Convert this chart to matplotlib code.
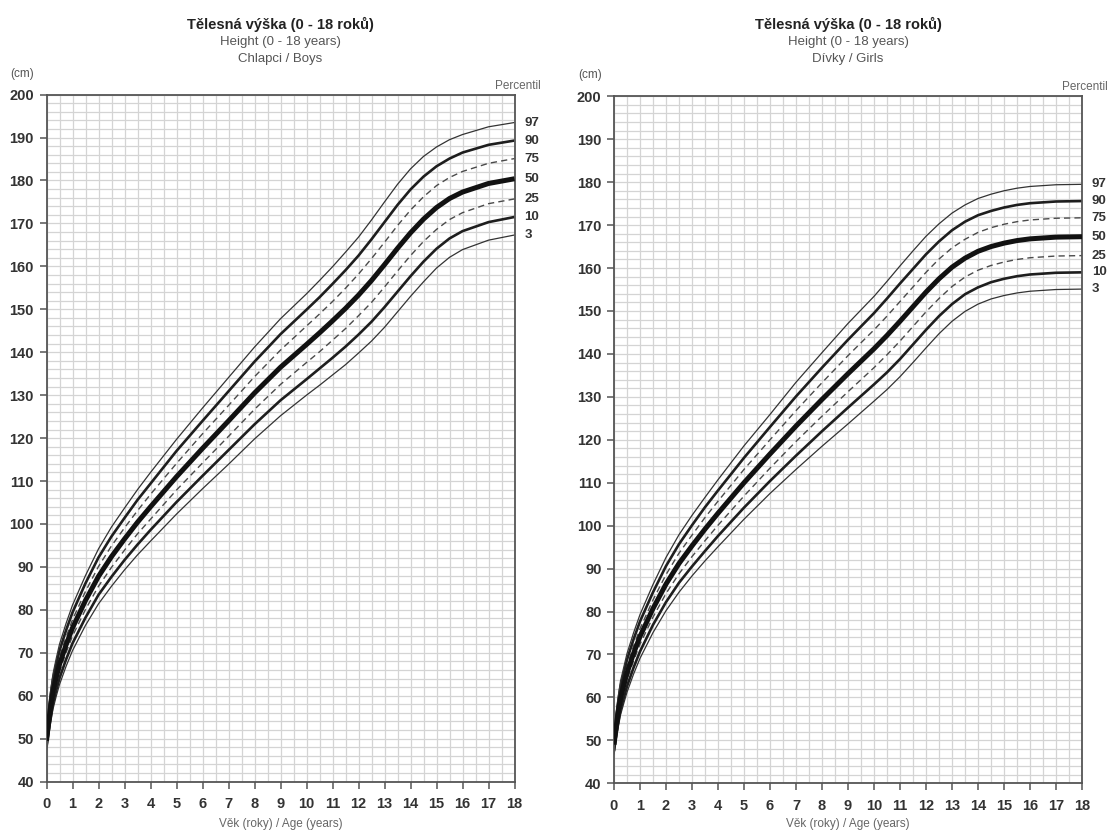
import matplotlib
matplotlib.use("Agg")
import matplotlib.pyplot as plt
from matplotlib.ticker import MultipleLocator

plt.rcParams['font.family'] = ['Liberation Sans', 'DejaVu Sans']

ages = [0, 0.083, 0.167, 0.25, 0.375, 0.5, 0.75, 1, 1.5, 2, 2.5, 3, 3.5, 4, 5, 6, 7,
        8, 9, 10, 10.5, 11, 11.5, 12, 12.5, 13, 13.5, 14, 14.5, 15, 15.5, 16, 17, 18]

percentiles = ["3", "10", "25", "50", "75", "90", "97"]

boys_p3 = [47.2, 50.8, 54.0, 56.9, 59.9, 62.6, 66.8, 70.5, 76.4, 81.4, 85.5, 89.3, 92.8, 96.0, 102.3, 108.2, 113.9, 119.8, 125.2,
           130.0, 132.3, 134.7, 137.1, 139.8, 142.6, 145.8, 149.4, 153.0, 156.4, 159.6, 162.1, 163.9, 166.1, 167.3]
boys_p10 = [48.0, 51.8, 55.2, 58.2, 61.3, 64.1, 68.4, 72.2, 78.2, 83.5, 87.7, 91.6, 95.2, 98.6, 105.1, 111.2, 117.2, 123.2, 128.8,
            133.7, 136.2, 138.7, 141.3, 144.1, 147.1, 150.5, 154.1, 157.7, 161.1, 164.1, 166.5, 168.2, 170.3, 171.5]
boys_p25 = [48.7, 52.9, 56.4, 59.5, 62.7, 65.6, 70.0, 73.9, 80.1, 85.5, 89.9, 93.9, 97.7, 101.1, 107.9, 114.2, 120.4, 126.7, 132.5,
            137.6, 140.1, 142.8, 145.5, 148.5, 151.6, 155.2, 158.9, 162.5, 165.8, 168.6, 170.9, 172.5, 174.6, 175.7]
boys_p50 = [49.5, 54.0, 57.8, 61.0, 64.3, 67.3, 71.8, 75.8, 82.2, 87.8, 92.4, 96.5, 100.4, 104.0, 111.0, 117.6, 124.0, 130.5, 136.5,
            141.8, 144.5, 147.3, 150.2, 153.3, 156.7, 160.4, 164.2, 167.8, 171.0, 173.7, 175.8, 177.3, 179.3, 180.4]
boys_p75 = [50.3, 55.2, 59.2, 62.5, 65.9, 69.0, 73.6, 77.7, 84.3, 90.1, 94.9, 99.1, 103.1, 106.9, 114.1, 121.0, 127.6, 134.3, 140.5,
            146.1, 148.9, 151.8, 154.9, 158.2, 161.8, 165.6, 169.5, 173.1, 176.2, 178.8, 180.7, 182.1, 184.0, 185.1]
boys_p90 = [51.0, 56.2, 60.4, 63.8, 67.3, 70.5, 75.2, 79.4, 86.2, 92.2, 97.1, 101.4, 105.6, 109.4, 117.0, 124.0, 130.9, 137.8, 144.2,
            149.9, 152.8, 155.9, 159.1, 162.5, 166.3, 170.3, 174.3, 177.9, 180.9, 183.3, 185.1, 186.5, 188.3, 189.3]
boys_p97 = [51.8, 57.2, 61.6, 65.1, 68.7, 72.0, 76.8, 81.1, 88.0, 94.2, 99.3, 103.7, 108.0, 112.0, 119.7, 127.0, 134.1, 141.2, 147.8,
            153.6, 156.7, 159.9, 163.3, 166.8, 170.8, 175.0, 179.1, 182.7, 185.6, 187.8, 189.5, 190.7, 192.5, 193.5]

girls_p3 = [46.7, 50.2, 53.2, 55.9, 58.6, 61.2, 65.4, 69.1, 75.1, 80.2, 84.5, 88.3, 91.8, 95.1, 101.5, 107.5, 113.1, 118.5, 123.7, 129.0, 131.7, 134.7, 138.0, 141.4, 144.7, 147.6, 149.9, 151.6, 152.8, 153.6, 154.2, 154.6, 155.0, 155.1]
girls_p10 = [47.5, 51.2, 54.4, 57.1, 59.9, 62.6, 66.9, 70.7, 76.9, 82.2, 86.7, 90.5, 94.1, 97.6, 104.2, 110.4, 116.3, 122.0, 127.5, 132.9, 135.7, 138.8, 142.2, 145.6, 148.8, 151.6, 153.9, 155.5, 156.7, 157.5, 158.1, 158.5, 158.9, 159.0]
girls_p25 = [48.2, 52.1, 55.5, 58.4, 61.3, 64.1, 68.5, 72.4, 78.7, 84.2, 88.8, 92.8, 96.5, 100.1, 106.9, 113.4, 119.6, 125.5, 131.2, 136.8, 139.8, 143.0, 146.4, 149.8, 152.9, 155.7, 157.9, 159.5, 160.6, 161.4, 162.0, 162.4, 162.8, 162.9]
girls_p50 = [49.0, 53.2, 56.8, 59.8, 62.8, 65.7, 70.2, 74.2, 80.7, 86.4, 91.2, 95.3, 99.2, 102.9, 110.0, 116.7, 123.2, 129.4, 135.4, 141.2, 144.3, 147.6, 151.0, 154.4, 157.5, 160.2, 162.3, 163.9, 165.0, 165.8, 166.4, 166.8, 167.2, 167.3]
girls_p75 = [49.8, 54.3, 58.1, 61.2, 64.3, 67.3, 71.9, 76.0, 82.7, 88.6, 93.6, 97.8, 101.9, 105.7, 113.1, 120.0, 126.8, 133.3, 139.6, 145.6, 148.8, 152.2, 155.6, 159.0, 162.1, 164.7, 166.7, 168.3, 169.4, 170.2, 170.8, 171.2, 171.6, 171.7]
girls_p90 = [50.5, 55.3, 59.2, 62.5, 65.7, 68.8, 73.5, 77.7, 84.5, 90.6, 95.7, 100.1, 104.3, 108.2, 115.8, 123.0, 130.1, 136.8, 143.3, 149.5, 152.9, 156.4, 159.8, 163.2, 166.2, 168.8, 170.8, 172.3, 173.3, 174.1, 174.7, 175.1, 175.5, 175.6]
girls_p97 = [51.3, 56.2, 60.4, 63.8, 67.0, 70.2, 75.0, 79.3, 86.3, 92.6, 97.9, 102.4, 106.6, 110.7, 118.6, 125.9, 133.4, 140.3, 147.1, 153.4, 156.9, 160.5, 164.0, 167.4, 170.3, 172.8, 174.7, 176.2, 177.2, 178.0, 178.6, 179.0, 179.4, 179.5]

boys = [boys_p3, boys_p10, boys_p25, boys_p50, boys_p75, boys_p90, boys_p97]
girls = [girls_p3, girls_p10, girls_p25, girls_p50, girls_p75, girls_p90, girls_p97]

x_ticks = list(range(0, 19))
y_ticks = list(range(40, 201, 10))

title_cz = "Tělesná výška (0 - 18 roků)"
title_en = "Height (0 - 18 years)"
sub_boys = "Chlapci / Boys"
sub_girls = "Dívky / Girls"
xlabel = "Věk (roky) / Age (years)"

# style per percentile: (linewidth, linestyle, color)
styles = {
    "3": (0.9, '-', '#333333'),
    "10": (1.9, '-', '#1e1e1e'),
    "25": (1.0, (0, (4.5, 3)), '#4a4a4a'),
    "50": (3.6, '-', '#111111'),
    "75": (1.0, (0, (4.5, 3)), '#4a4a4a'),
    "90": (1.9, '-', '#1e1e1e'),
    "97": (0.9, '-', '#333333'),
}

W, H = 1110, 832
fig = plt.figure(figsize=(W / 100, H / 100), dpi=100)


def make_panel(left_px, top_px, bottom_px, right_px, series, sub):
    ax = fig.add_axes([left_px / W, 1 - bottom_px / H,
                       (right_px - left_px) / W, (bottom_px - top_px) / H])
    ax.set_xlim(0, 18)
    ax.set_ylim(40, 200)
    ax.xaxis.set_minor_locator(MultipleLocator(0.5))
    ax.yaxis.set_minor_locator(MultipleLocator(2))
    ax.set_xticks(x_ticks)
    ax.set_yticks(y_ticks)
    ax.grid(which='both', color='#d4d4d4', linewidth=0.9)
    ax.set_axisbelow(True)
    for s in ax.spines.values():
        s.set_color('#555555')
        s.set_linewidth(1.3)
    ax.tick_params(axis='both', which='minor', length=0)
    ax.tick_params(axis='both', which='major', length=5, width=1.1, color='#555555',
                   direction='out', labelsize=10.5, labelcolor='#333333')
    ax.tick_params(axis='x', which='major', pad=6)
    ax.tick_params(axis='y', which='major', pad=4)
    for lab in ax.get_xticklabels() + ax.get_yticklabels():
        lab.set_fontweight('bold')
    for p, vals in zip(percentiles, series):
        lw, ls, c = styles[p]
        ax.plot(ages, vals, color=c, linewidth=lw, linestyle=ls,
                solid_capstyle='butt', solid_joinstyle='round',
                zorder=3 if p == "50" else 2)
        ax.annotate(p, xy=(18, vals[-1]), xycoords='data',
                    xytext=(7, 0), textcoords='offset points', va='center', ha='left',
                    fontsize=9.5, fontweight='bold', color='#333333',
                    annotation_clip=False)
    cx = (left_px + right_px) / 2 / W
    fig.text(cx, 1 - 24 / H, title_cz, ha='center', va='center', fontsize=10.5,
             fontweight='bold', color='#222222')
    fig.text(cx, 1 - 42 / H, title_en, ha='center', va='center', fontsize=9.5,
             color='#555555')
    fig.text(cx, 1 - 59 / H, sub, ha='center', va='center', fontsize=9.5,
             color='#555555')
    fig.text((left_px - 36) / W, 1 - (top_px - 21) / H, "(cm)", ha='left', va='center',
             fontsize=8.5, color='#555555')
    fig.text((right_px + 26) / W, 1 - (top_px - 9) / H, "Percentil", ha='right',
             va='center', fontsize=8.5, color='#666666')
    fig.text(cx, 1 - 824 / H, xlabel, ha='center', va='center', fontsize=8.5,
             color='#666666')
    return ax


make_panel(46.5, 94.6, 781.6, 514.5, boys, sub_boys)
make_panel(614, 96.3, 783.3, 1082, girls, sub_girls)

fig.savefig("out.png", dpi=100, facecolor='white')
